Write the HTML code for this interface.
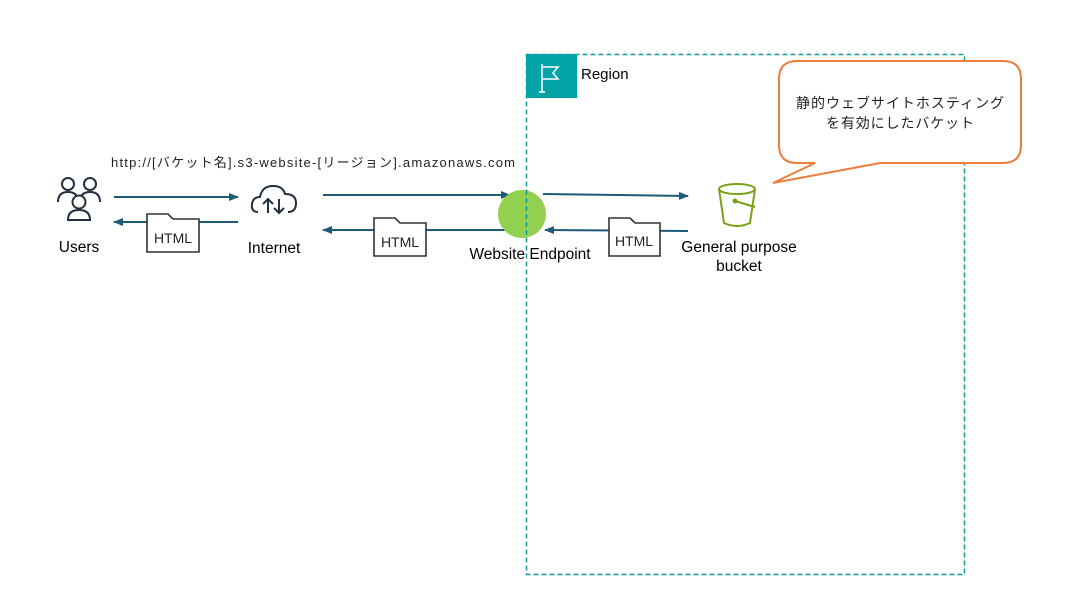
<!DOCTYPE html>
<html><head><meta charset="utf-8"><style>
html,body{margin:0;padding:0;background:#fff;}
svg{display:block;}
text{font-family:"Liberation Sans","Noto Sans CJK JP",sans-serif;}
</style></head><body>
<svg width="1070" height="610" viewBox="0 0 1070 610" xmlns="http://www.w3.org/2000/svg">
<defs>
<marker id="ah" markerWidth="10" markerHeight="8" refX="9" refY="4" orient="auto" markerUnits="userSpaceOnUse">
<path d="M0,0 L10,4 L0,8 Z" fill="#1d5b79"/></marker>
</defs>
<rect x="526.5" y="54.5" width="438" height="520" fill="none" stroke="#0f9a9b" stroke-width="1.5" stroke-dasharray="5,3"/>
<rect x="526" y="54" width="51" height="44" fill="#00a4a6"/>
<g stroke="#fff" stroke-width="1.6" fill="none">
<line x1="542" y1="64" x2="542" y2="92"/>
<path d="M542,67 L558,67 L553,73 L558,79 L542,79"/>
<line x1="539" y1="92" x2="545" y2="92"/>
</g>
<text x="581" y="79" font-size="15" fill="#000">Region</text>
<path d="M797,61 L1003,61 Q1021,61 1021,79 L1021,145 Q1021,163 1003,163 L880,163 L773,183 L815,163 L797,163 Q779,163 779,145 L779,79 Q779,61 797,61 Z" fill="#fff" stroke="#ef7d3c" stroke-width="2"/>
<text x="796" y="108" font-size="14" fill="#222" textLength="208" lengthAdjust="spacing">静的ウェブサイトホスティング</text>
<text x="826" y="128" font-size="14" fill="#222" textLength="148" lengthAdjust="spacing">を有効にしたバケット</text>
<text x="111" y="167" font-size="13" fill="#222" textLength="404" lengthAdjust="spacing">http://[バケット名].s3-website-[リージョン].amazonaws.com</text>
<g stroke="#1d5b79" stroke-width="2" fill="none">
<line x1="114" y1="197" x2="238" y2="197" marker-end="url(#ah)"/>
<line x1="238" y1="222" x2="114" y2="222" marker-end="url(#ah)"/>
<line x1="323" y1="195" x2="510" y2="195" marker-end="url(#ah)"/>
<line x1="510" y1="230" x2="323" y2="230" marker-end="url(#ah)"/>
<line x1="543" y1="194" x2="688" y2="196" marker-end="url(#ah)"/>
<line x1="688" y1="231" x2="545" y2="230" marker-end="url(#ah)"/>
</g>
<circle cx="522" cy="214" r="24" fill="#92d050"/>
<line x1="526.5" y1="190" x2="526.5" y2="238" stroke="#0f9a9b" stroke-width="1.5" stroke-dasharray="5,3"/>
<g fill="#fff" stroke="#333" stroke-width="1.6">
<path d="M147,252 L147,214 L168,214 L173,219 L199,219 L199,252 Z"/>
<path d="M374,256 L374,218 L395,218 L400,223 L426,223 L426,256 Z"/>
<path d="M609,256 L609,218 L630,218 L635,223 L660,223 L660,256 Z"/>
</g>
<g font-size="14" fill="#222" text-anchor="middle">
<text x="173" y="243">HTML</text>
<text x="400" y="247">HTML</text>
<text x="634" y="246">HTML</text>
</g>
<g stroke="#232f3e" stroke-width="2" fill="#fff">
<circle cx="68" cy="184" r="6"/>
<path d="M58,202 Q58,192 68,192 Q78,192 78,202"/>
<circle cx="90" cy="184" r="6"/>
<path d="M80,202 Q80,192 90,192 Q100,192 100,202"/>
<circle cx="79" cy="202" r="6.5"/>
<path d="M68,220 Q68,210 79,210 Q90,210 90,220 Z"/>
</g>
<g stroke="#232f3e" stroke-width="2" fill="none">
<path d="M258,212 Q251,212 252,204 Q253,197 260,197 Q262,186 273,186 Q283,186 285,194 Q296,194 296,203 Q296,212 288,212"/>
<line x1="268" y1="213" x2="268" y2="199"/><path d="M263,204 L268,199 L273,204"/>
<line x1="279" y1="199" x2="279" y2="213"/><path d="M274,208 L279,213 L284,208"/>
</g>
<g stroke="#7aa116" stroke-width="2" fill="none">
<ellipse cx="737" cy="189" rx="18" ry="5"/>
<path d="M719,189 L724,223 Q737,229 750,223 L755,189"/>
<line x1="735" y1="201" x2="755" y2="207"/>
<circle cx="735" cy="201" r="1.5" fill="#7aa116"/>
</g>
<g font-size="15.5" fill="#000" text-anchor="middle">
<text x="79" y="252">Users</text>
<text x="274" y="253">Internet</text>
<text x="530" y="259">Website Endpoint</text>
<text x="739" y="252">General purpose</text>
<text x="739" y="271">bucket</text>
</g>
</svg>
</body></html>
